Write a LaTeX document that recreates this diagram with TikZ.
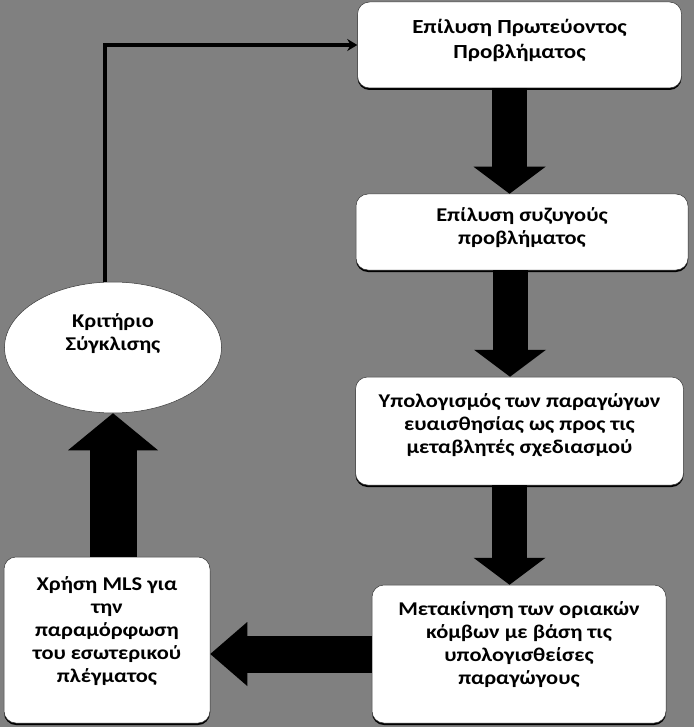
\documentclass[tikz,border=0pt]{standalone}
\usepackage{fontspec}
\setmainfont{Carlito}[FakeStretch=1.15]
\usetikzlibrary{arrows.meta,positioning,shapes.geometric,shadows}
\definecolor{flowbg}{RGB}{128,128,128}
\definecolor{flowedge}{RGB}{55,55,55}
\tikzset{
  flow box/.style={
    fill=white,
    draw=flowedge,
    line width=0.5pt,
    rounded corners=12pt,
    inner sep=0pt,
    general shadow={fill=black, shadow yshift=-2pt},
  },
  flow oval/.style={
    ellipse,
    fill=white,
    draw=flowedge,
    line width=0.5pt,
    inner sep=0pt,
  },
  flow text/.style={
    font=\bfseries\fontsize{19.5}{23}\selectfont,
    align=center,
    text=black,
  },
  block arrow/.style={
    -{Triangle[length=27pt,width=72pt,line width=0pt]},
    line width=35pt,
    draw=black,
  },
  back arrow/.style={
    -{Triangle[length=37pt,width=90pt,line width=0pt]},
    line width=47pt,
    draw=black,
  },
  loop arrow/.style={
    -{Stealth[length=10pt,width=12pt]},
    line width=4pt,
    draw=black,
  },
}

\begin{document}
\begin{tikzpicture}[x=1pt,y=-1pt]
  \useasboundingbox (0,0) rectangle (694,727);
  \fill[flowbg] (0,0) rectangle (694,727);

  % right column
  \node[flow box, minimum width=324pt, minimum height=86pt,
    label={[flow text, font=\bfseries\fontsize{20}{25}\selectfont, yshift=5pt]center:{Επίλυση Πρωτεύοντος\\Προβλήματος}}]
    (prim) at (519.5,45) {};
  \node[flow box, minimum width=332pt, minimum height=76pt,
    label={[flow text, yshift=4pt]center:{Επίλυση συζυγούς\\προβλήματος}}]
    (conj) at (522,232) {};
  \node[flow box, minimum width=328pt, minimum height=108pt,
    label={[flow text, yshift=6pt]center:{Υπολογισμός των παραγώγων\\ευαισθησίας ως προς τις\\μεταβλητές σχεδιασμού}}]
    (sens) at (519.5,431) {};
  \node[flow box, minimum width=294pt, minimum height=138pt,
    label={[flow text, yshift=9pt]center:{Μετακίνηση των οριακών\\κόμβων με βάση τις\\υπολογισθείσες\\παραγώγους}}]
    (move) at (519,654) {};

  % left column
  \node[flow box, minimum width=206pt, minimum height=166pt,
    label={[flow text, yshift=9pt]center:{Χρήση MLS για\\την\\παραμόρφωση\\του εσωτερικού\\πλέγματος}}]
    (mls) at (107,640) {};
  \node[flow oval, minimum width=217pt, minimum height=131pt,
    label={[flow text, yshift=14pt]center:{Κριτήριο\\Σύγκλισης}}]
    (crit) at (113,347.5) {};

  % arrows
  \draw[block arrow] ([xshift=-10pt]prim.south) -- ([xshift=-10pt]prim.south |- conj.north);
  \draw[block arrow] ([xshift=-12pt]conj.south) -- ([xshift=-12pt]conj.south |- sens.north);
  \draw[block arrow] ([xshift=-10pt]sens.south) -- ([xshift=-10pt]sens.south |- move.north);
  \draw[back arrow, line width=37pt, -{Triangle[length=37pt,width=64pt,line width=0pt]}]
    (move.west) -- (mls.east |- move.west);
  \draw[back arrow] (crit.south |- mls.north) -- (crit.south);
  \draw[loop arrow] ([xshift=-8pt]crit.north) |- (prim.west);
\end{tikzpicture}
\end{document}
